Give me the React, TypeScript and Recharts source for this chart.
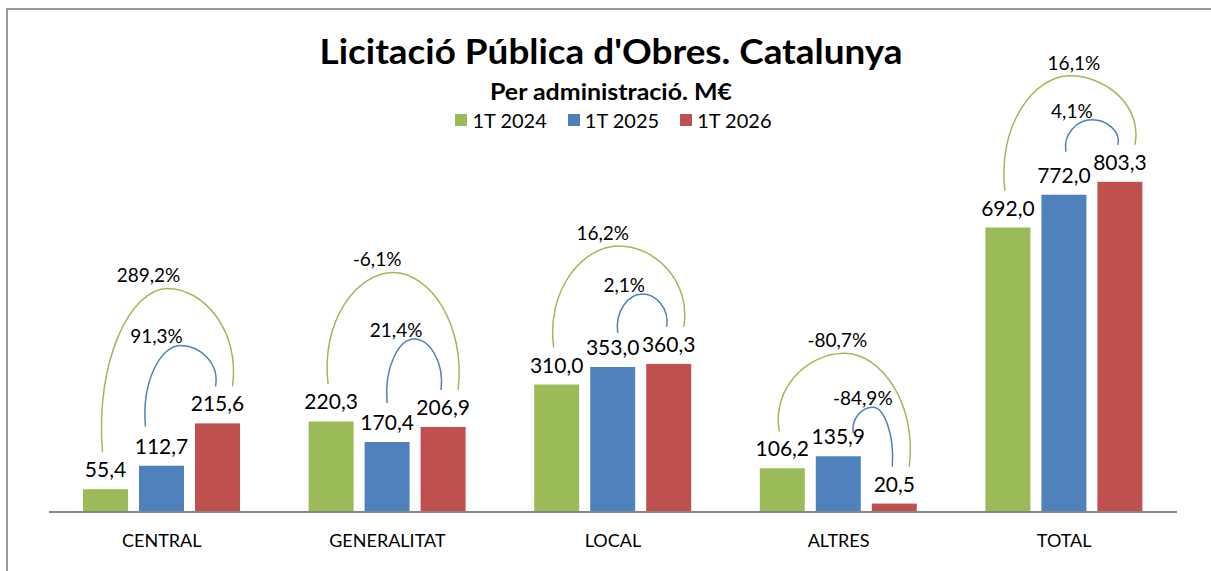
import { BarChart, Bar, XAxis, YAxis, Legend, LabelList } from "recharts";

const categories = ["CENTRAL", "GENERALITAT", "LOCAL", "ALTRES", "TOTAL"];
const q1_2024 = [55.4, 220.3, 310.0, 106.2, 692.0];
const q1_2025 = [112.7, 170.4, 353.0, 135.9, 772.0];
const q1_2026 = [215.6, 206.9, 360.3, 20.5, 803.3];
// variació 1T 2026 vs 1T 2024 (verd) i vs 1T 2025 (blau)
const change2024 = ["289,2%", "-6,1%", "16,2%", "-80,7%", "16,1%"];
const change2025 = ["91,3%", "21,4%", "2,1%", "-84,9%", "4,1%"];

const GREEN = "#9BBB59";
const BLUE = "#4F81BD";
const RED = "#C0504D";
const FONT = "Lato, Calibri, sans-serif";
const BAR_GAP = 11;

// arc layout tweaks, per category
const greenArc = { rise: [98, 112, 81, 78, 69], labelDx: [-19, -16, -16, -7, 4] };
const blueArc = {
  startDx: [-16, 0, 5, 15, 2],
  startLift: [39, 39, 34, 23, 43],
  rise: [41, 51, 33, 26, 25],
  labelDx: [-24, -18, -18, -10, -20],
};

const rows = categories.map((name, i) => ({
  name,
  q2024: q1_2024[i],
  q2025: q1_2025[i],
  q2026: q1_2026[i],
}));

const fmt = (v: number) => v.toFixed(1).replace(".", ",");

function arcPath(x1: number, y1: number, x2: number, y2: number, peak: number) {
  const k = 0.56;
  const bulge = (x2 - x1) * 0.06;
  const xm = (x1 + x2) / 2;
  return (
    `M${x1},${y1} C${x1 - bulge},${y1 - k * (y1 - peak)} ${xm - k * (xm - x1)},${peak} ${xm},${peak} ` +
    `C${xm + k * (x2 - xm)},${peak} ${x2 + bulge},${y2 - k * (y2 - peak)} ${x2},${y2}`
  );
}

function ValueLabel(props: any) {
  const { x, y, width, value } = props;
  return (
    <text x={x + width / 2} y={y - 12} textAnchor="middle" fontSize={21} fontFamily={FONT} fill="#000">
      {fmt(value)}
    </text>
  );
}

// last series draws its bar plus the two comparison arcs
function BarWithArcs(props: any) {
  const { x, y, width, height, fill, index, payload } = props;
  const base = y + height;
  const unit = height / payload.q2026;
  const step = width + BAR_GAP;
  const cx3 = x + width / 2;
  const cx2 = cx3 - step;
  const cx1 = cx3 - 2 * step;
  const top1 = base - payload.q2024 * unit;
  const top2 = base - payload.q2025 * unit;
  const top3 = y;

  const gx1 = cx1 - 3, gy1 = top1 - 37;
  const gx2 = cx3 + 15, gy2 = top3 - 37;
  const gPeak = Math.min(gy1, gy2) - greenArc.rise[index];

  const bx1 = cx2 + blueArc.startDx[index], by1 = top2 - blueArc.startLift[index];
  const bx2 = cx3 - 2, by2 = top3 - 37;
  const bPeak = Math.min(by1, by2) - blueArc.rise[index];

  return (
    <g>
      <rect x={x} y={y} width={width} height={height} fill={fill} />
      <path d={arcPath(gx1, gy1, gx2, gy2, gPeak)} fill="none" stroke={GREEN} strokeWidth={1.5} />
      <path d={arcPath(bx1, by1, bx2, by2, bPeak)} fill="none" stroke={BLUE} strokeWidth={1.5} />
      <text x={(gx1 + gx2) / 2 + greenArc.labelDx[index]} y={gPeak - 6} textAnchor="middle" fontSize={19} fontFamily={FONT} fill="#000">
        {change2024[index]}
      </text>
      <text x={(bx1 + bx2) / 2 + blueArc.labelDx[index]} y={bPeak - 2} textAnchor="middle" fontSize={19} fontFamily={FONT} fill="#000">
        {change2025[index]}
      </text>
    </g>
  );
}

function LegendContent(props: any) {
  const items = props.payload || [];
  return (
    <div style={{ display: "flex", justifyContent: "center", gap: 21, fontFamily: FONT, fontSize: 20, color: "#000", paddingLeft: 16 }}>
      {items.map((it: any) => (
        <div key={it.value} style={{ display: "flex", alignItems: "center" }}>
          <span style={{ width: 12, height: 12, background: it.color, marginRight: 5, display: "inline-block" }} />
          <span>{it.value}</span>
        </div>
      ))}
    </div>
  );
}

export default function App() {
  return (
    <div style={{ position: "absolute", left: 0, top: 0, width: 1211, height: 571, background: "#fff" }}>
      <div
        style={{
          position: "absolute",
          left: 6,
          top: 8,
          width: 1205,
          height: 563,
          borderTop: "2px solid #9a9a9a",
          borderLeft: "2px solid #9a9a9a",
        }}
      />
      <svg width={1211} height={140} style={{ position: "absolute", left: 0, top: 0 }}>
        <text x={611} y={64} textAnchor="middle" fontSize={34} fontWeight={700} fontFamily={FONT} fill="#000" textLength={583} lengthAdjust="spacingAndGlyphs">
          Licitació Pública d'Obres. Catalunya
        </text>
        <text x={611} y={100} textAnchor="middle" fontSize={23} fontWeight={700} fontFamily={FONT} fill="#000" textLength={242} lengthAdjust="spacingAndGlyphs">
          Per administració. M€
        </text>
      </svg>
      <div style={{ position: "absolute", left: 0, top: 0 }}>
        <BarChart
          width={1211}
          height={571}
          data={rows}
          margin={{ top: 101, right: 34, bottom: 29, left: 49 }}
          barSize={45}
          barGap={BAR_GAP}
        >
          <XAxis
            dataKey="name"
            axisLine={{ stroke: "#868686", strokeWidth: 2 }}
            tickLine={false}
            tickSize={6}
            tickMargin={16}
            interval={0}
            tick={{ fontSize: 18, fontFamily: FONT, fill: "#000" }}
          />
          <YAxis hide domain={[0, 1000]} />
          <Legend
            layout="horizontal"
            verticalAlign="middle"
            content={<LegendContent />}
            wrapperStyle={{ top: 108, left: 0, width: 1211 }}
          />
          <Bar dataKey="q2024" name="1T 2024" fill={GREEN} isAnimationActive={false}>
            <LabelList dataKey="q2024" content={<ValueLabel />} />
          </Bar>
          <Bar dataKey="q2025" name="1T 2025" fill={BLUE} isAnimationActive={false}>
            <LabelList dataKey="q2025" content={<ValueLabel />} />
          </Bar>
          <Bar dataKey="q2026" name="1T 2026" fill={RED} isAnimationActive={false} shape={<BarWithArcs />}>
            <LabelList dataKey="q2026" content={<ValueLabel />} />
          </Bar>
        </BarChart>
      </div>
    </div>
  );
}
